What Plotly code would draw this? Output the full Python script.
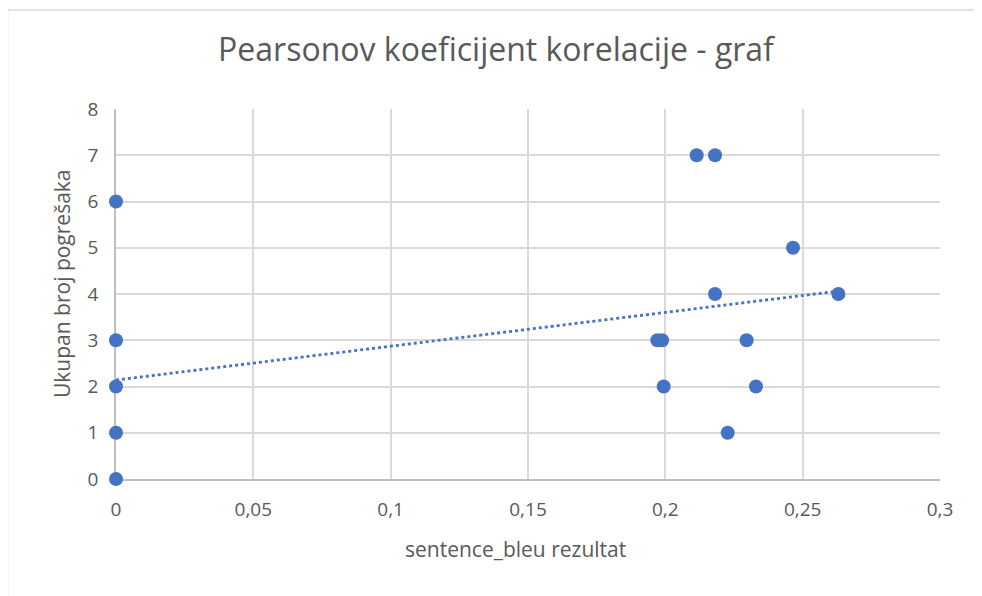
import plotly.graph_objects as go

# Data
bleu_score = [0, 0, 0, 0, 0,
              0.1971, 0.1988, 0.1994, 0.2114, 0.2181, 0.2181,
              0.2227, 0.2296, 0.2330, 0.2465, 0.2630]
error_count = [0, 1, 2, 3, 6,
               3, 3, 2, 7, 7, 4,
               1, 3, 2, 5, 4]

# Linear trendline as drawn in the reference
trend_intercept = 2.14
trend_slope = 7.31

title_text = "Pearsonov koeficijent korelacije - graf"
x_title = "sentence_bleu rezultat"
y_title = "Ukupan broj pogrešaka"

blue = "#4472C4"
grid = "#d9d9d9"
txt = "#595959"
font_family = "'Open Sans', Lato, sans-serif"

trend_x = [min(bleu_score), max(bleu_score)]
trend_y = [trend_intercept + trend_slope * v for v in trend_x]

fig = go.Figure()
fig.add_trace(go.Scatter(
    x=trend_x, y=trend_y, mode="lines",
    line=dict(color=blue, width=2.8, dash="dot"),
    hoverinfo="skip", showlegend=False, cliponaxis=False,
))
fig.add_trace(go.Scatter(
    x=bleu_score, y=error_count, mode="markers",
    marker=dict(color=blue, size=14, line=dict(width=0)),
    showlegend=False, cliponaxis=False,
))

# page is rendered with an 8px body offset; compensate in margins
OFF = 8
W, H = 982, 596
L, T = 116 - OFF, 109 - OFF
pw, ph = 824, 370
R, B = W - L - pw, H - T - ph

def px_x(p):
    return (p - OFF - L) / pw

def px_y(p):
    return (T + ph - (p - OFF)) / ph

fig.update_layout(
    width=W, height=H,
    margin=dict(l=L, r=R, t=T, b=B, autoexpand=False),
    paper_bgcolor="white", plot_bgcolor="white",
    separators=",.",
    font=dict(family=font_family, color=txt, size=19),
    title=dict(text=title_text, x=(496 - OFF) / W, xref="container", xanchor="center",
               y=1 - (50 - OFF) / H, yref="container", yanchor="middle",
               font=dict(size=32, color=txt, family=font_family)),
    xaxis=dict(
        range=[0, 0.3], dtick=0.05, tick0=0,
        showgrid=True, gridcolor=grid, gridwidth=1.6,
        zeroline=False, showline=True, linecolor="#bfbfbf", linewidth=1.6,
        ticks="", ticklabelstandoff=12, layer="below traces",
        tickfont=dict(size=19, color=txt),
    ),
    yaxis=dict(
        range=[0, 8], dtick=1, tick0=0,
        showgrid=True, gridcolor=grid, gridwidth=1.6,
        zeroline=False, showline=True, linecolor="#bfbfbf", linewidth=1.6,
        ticks="", ticklabelstandoff=12, layer="below traces",
        tickfont=dict(size=19, color=txt),
    ),
    annotations=[
        dict(text=x_title, xref="paper", yref="paper",
             x=px_x(515), y=px_y(549), xanchor="center", yanchor="middle",
             showarrow=False, font=dict(size=21, color=txt, family=font_family)),
        dict(text=y_title, xref="paper", yref="paper", textangle=-90,
             x=px_x(62), y=px_y(284), xanchor="center", yanchor="middle",
             showarrow=False, font=dict(size=21, color=txt, family=font_family)),
    ],
    shapes=[dict(
        type="rect", xref="paper", yref="paper",
        x0=px_x(7.5), x1=px_x(981), y0=px_y(640), y1=px_y(10),
        line=dict(color="#d9d9d9", width=1.5), fillcolor="rgba(0,0,0,0)",
        layer="below",
    )],
)

fig.write_html("out.html")
